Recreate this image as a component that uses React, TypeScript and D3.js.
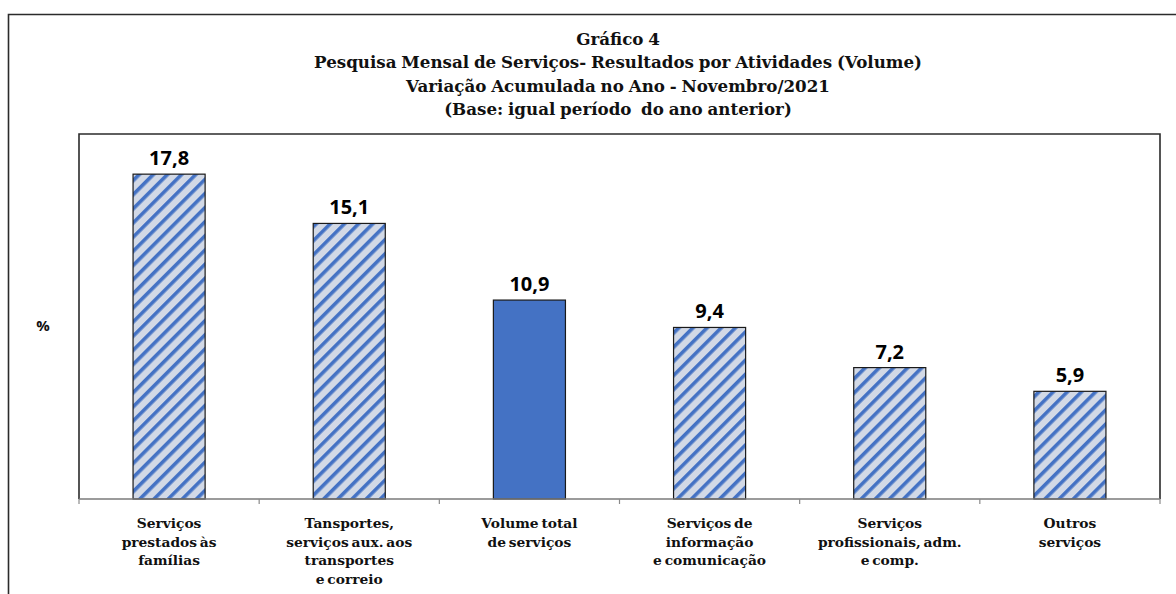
import React from "react";
import * as d3 from "d3";

const categories: string[][] = [
  ["Serviços", "prestados às", "famílias"],
  ["Tansportes,", "serviços aux. aos", "transportes", "e correio"],
  ["Volume total", "de serviços"],
  ["Serviços de", "informação", "e comunicação"],
  ["Serviços", "profissionais, adm.", "e comp."],
  ["Outros", "serviços"],
];
const values: number[] = [17.8, 15.1, 10.9, 9.4, 7.2, 5.9];
const solid: boolean[] = [false, false, true, false, false, false];
const titleLines: string[] = [
  "Gráfico 4",
  "Pesquisa Mensal de Serviços- Resultados por Atividades (Volume)",
  "Variação Acumulada no Ano - Novembro/2021",
  "(Base: igual período  do ano anterior)",
];

const W = 1176;
const H = 594;
const left = 79;
const right = 1160;
const top = 134;
const bottom = 499;

export default function App() {
  const x = d3
    .scaleBand<number>()
    .domain(d3.range(values.length))
    .range([left, right])
    .paddingInner(0.6)
    .paddingOuter(0.3);
  const y = d3.scaleLinear().domain([0, 20]).range([bottom, top]);
  const step = x.step();
  const serif = "'DejaVu Serif', serif";
  const sans = "'Open Sans', sans-serif";
  const fmt = (v: number) => v.toFixed(1).replace(".", ",");

  return (
    <svg
      width={W}
      height={H}
      style={{ position: "absolute", left: 0, top: 0 }}
    >
      <defs>
        <pattern
          id="hatch"
          patternUnits="userSpaceOnUse"
          width={10}
          height={10}
          patternTransform="rotate(45)"
        >
          <rect width={10} height={10} fill="#d2d9e6" />
          <rect x={0} y={0} width={3.6} height={10} fill="#4472c4" />
        </pattern>
      </defs>
      <rect width={W} height={H} fill="#fff" />
      {/* outer frame */}
      <path
        d={`M8.5,${H + 2} V14.5 H${W + 2}`}
        fill="none"
        stroke="#2b2b2b"
        strokeWidth={1.6}
      />
      {/* title */}
      <g
        fontFamily={serif}
        fontWeight="bold"
        fontSize={16.7}
        textAnchor="middle"
        fill="#111"
        style={{ wordSpacing: "-1px" }}
      >
        {titleLines.map((t, i) => (
          <text key={i} x={618} y={45 + i * 23.3} xmlSpace="preserve">
            {t}
          </text>
        ))}
      </g>
      {/* plot frame */}
      <path
        d={`M${left},${bottom} V${top} H${right} V${bottom}`}
        fill="none"
        stroke="#2b2b2b"
        strokeWidth={1.6}
      />
      {/* bars */}
      {values.map((v, i) => (
        <rect
          key={i}
          x={x(i)!}
          y={y(v)}
          width={x.bandwidth()}
          height={bottom - y(v)}
          fill={solid[i] ? "#4472c4" : "url(#hatch)"}
          stroke="#1a1a1a"
          strokeWidth={1.2}
        />
      ))}
      {/* value labels */}
      <g
        fontFamily={sans}
        fontWeight="bold"
        fontSize={20}
        textAnchor="middle"
        fill="#000"
      >
        {values.map((v, i) => (
          <text key={i} x={x(i)! + x.bandwidth() / 2} y={y(v) - 9}>
            {fmt(v)}
          </text>
        ))}
      </g>
      {/* x axis */}
      <line
        x1={left}
        x2={right}
        y1={bottom}
        y2={bottom}
        stroke="#7a7a7a"
        strokeWidth={1.6}
      />
      {d3.range(values.length + 1).map((i) => {
        const tx = left + i * step;
        return (
          <line
            key={i}
            x1={tx}
            x2={tx}
            y1={bottom}
            y2={bottom + 5}
            stroke="#8a8a8a"
            strokeWidth={1.2}
          />
        );
      })}
      {/* category labels */}
      <g
        fontFamily={serif}
        fontWeight="bold"
        fontSize={13.8}
        textAnchor="middle"
        fill="#111"
        style={{ wordSpacing: "-2px" }}
      >
        {categories.map((lines, i) => (
          <text key={i} x={x(i)! + x.bandwidth() / 2} y={528}>
            {lines.map((l, j) => (
              <tspan key={j} x={x(i)! + x.bandwidth() / 2} y={528 + j * 18.5}>
                {l}
              </tspan>
            ))}
          </text>
        ))}
      </g>
      <text
        x={43}
        y={331}
        fontFamily={sans}
        fontWeight="bold"
        fontSize={15}
        textAnchor="middle"
        fill="#111"
      >
        %
      </text>
    </svg>
  );
}
